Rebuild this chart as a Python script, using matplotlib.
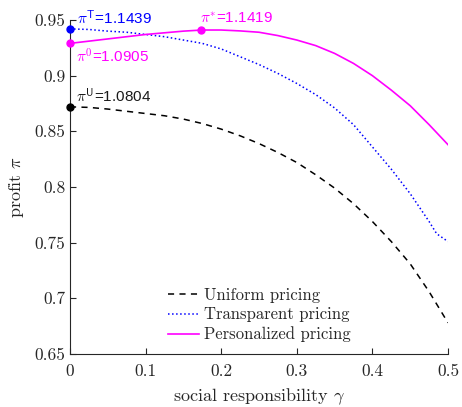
import matplotlib
matplotlib.use("Agg")
import matplotlib.pyplot as plt

gamma = [0, 0.025, 0.05, 0.075, 0.1, 0.125, 0.15, 0.175, 0.2, 0.225, 0.25,
         0.275, 0.3, 0.325, 0.35, 0.375, 0.4, 0.425, 0.45, 0.475, 0.5]
uniform = [0.872, 0.8715, 0.870, 0.868, 0.866, 0.864, 0.861, 0.857, 0.852, 0.846, 0.839,
           0.831, 0.822, 0.811, 0.799, 0.785, 0.769, 0.751, 0.731, 0.706, 0.678]
gamma_t = [0, 0.025, 0.05, 0.075, 0.1, 0.125, 0.15, 0.175, 0.2, 0.225, 0.25,
           0.275, 0.3, 0.325, 0.35, 0.375, 0.4, 0.425, 0.45, 0.475, 0.485, 0.5]
transparent = [0.942, 0.9415, 0.940, 0.939, 0.937, 0.935, 0.932, 0.929, 0.924, 0.917, 0.910,
               0.902, 0.893, 0.883, 0.871, 0.856, 0.836, 0.816, 0.794, 0.769, 0.758, 0.751]
personalized = [0.929, 0.931, 0.933, 0.935, 0.937, 0.9385, 0.940, 0.941, 0.941, 0.9402, 0.939,
                0.936, 0.932, 0.927, 0.920, 0.911, 0.900, 0.887, 0.873, 0.856, 0.838]

pt_T = (0, 0.942)
pt_0 = (0, 0.929)
pt_U = (0, 0.872)
pt_star = (0.173, 0.9413)

labels = ["Uniform pricing", "Transparent pricing", "Personalized pricing"]
xticks = [0, 0.1, 0.2, 0.3, 0.4, 0.5]
xticklabels = ["0", "0.1", "0.2", "0.3", "0.4", "0.5"]
yticks = [0.65, 0.7, 0.75, 0.8, 0.85, 0.9, 0.95]
yticklabels = ["0.65", "0.7", "0.75", "0.8", "0.85", "0.9", "0.95"]

plt.rcParams['mathtext.fontset'] = 'cm'
serif = 'cmr10'

fig = plt.figure(figsize=(4.62, 4.07), dpi=100)
ax = fig.add_axes([70/462, 1-354/407, 378/462, 334/407])

ax.plot(gamma, uniform, '--', color='black', lw=1.1, dashes=(4, 3.5), label=labels[0])
ax.plot(gamma_t, transparent, ':', color='#0000FF', lw=1.1, label=labels[1])
ax.plot(gamma, personalized, '-', color='#FF00FF', lw=1.2, label=labels[2])

ax.plot(*pt_T, 'o', color='#0000FF', ms=5, clip_on=False, zorder=5)
ax.plot(*pt_0, 'o', color='#FF00FF', ms=5, clip_on=False, zorder=5)
ax.plot(*pt_U, 'o', color='black', ms=5, clip_on=False, zorder=5)
ax.plot(*pt_star, 'o', color='#FF00FF', ms=5, clip_on=False, zorder=5)

sans = 'Liberation Sans'
fs = 11
ax.text(0.009, 0.9458, r"$\pi^{\mathsf{T}}$=1.1439", color='#0000FF', fontsize=fs,
        family=sans, va='baseline', ha='left')
ax.text(0.172, 0.9476, r"$\pi^{*}$=1.1419", color='#FF00FF', fontsize=fs,
        family=sans, va='baseline', ha='left')
ax.text(0.008, 0.9112, r"$\pi^{\mathsf{0}}$=1.0905", color='#FF00FF', fontsize=fs,
        family=sans, va='baseline', ha='left')
ax.text(0.008, 0.8754, r"$\pi^{\mathsf{U}}$=1.0804", color='#1a1a1a', fontsize=fs,
        family=sans, va='baseline', ha='left')

ax.set_xlim(0, 0.5)
ax.set_ylim(0.65, 0.95)
ax.set_xticks(xticks)
ax.set_xticklabels(xticklabels, family=serif, fontsize=12.5)
ax.set_yticks(yticks)
ax.set_yticklabels(yticklabels, family=serif, fontsize=12.5)
ax.tick_params(direction='in', length=4, width=0.8, colors='#262626', labelcolor='#262626')
ax.tick_params(axis='x', pad=7)
for s in ['top', 'right']:
    ax.spines[s].set_visible(False)
for s in ['left', 'bottom']:
    ax.spines[s].set_color('#262626')
    ax.spines[s].set_linewidth(0.8)

ax.set_xlabel(r"social responsibility $\gamma$", family=serif, fontsize=13, color='#262626', labelpad=5)
ax.set_ylabel(r"profit $\pi$", family=serif, fontsize=13, color='#262626', labelpad=6)

leg = ax.legend(loc='lower center', frameon=False, prop={'family': serif, 'size': 12},
                handlelength=1.9, handletextpad=0.25, labelspacing=0.25,
                bbox_to_anchor=(0.5, -0.01))
for t in leg.get_texts():
    t.set_color('#262626')

fig.savefig("out.png", dpi=100)
